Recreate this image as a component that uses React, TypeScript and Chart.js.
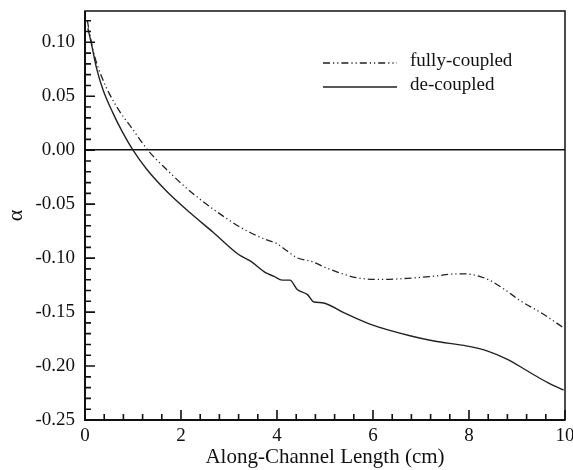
import React, { useEffect, useRef } from "react";
import { Chart, registerables } from "chart.js";

Chart.register(...registerables);

// Along-channel length (cm) and alpha for each series
const fullyX = [0.05, 0.1, 0.2, 0.375, 0.65, 1.0, 1.31, 1.7, 2.19, 2.68, 3.2, 3.45, 3.86, 3.97, 4.2, 4.42, 4.7, 5.11, 5.67, 6.23, 6.79, 7.27, 7.76, 8.04, 8.39, 8.74, 9.08, 9.5, 9.97];
const fullyY = [0.12, 0.107, 0.087, 0.065, 0.041, 0.019, 0.0, -0.0179, -0.038, -0.0549, -0.0704, -0.0765, -0.0843, -0.0858, -0.093, -0.0997, -0.1028, -0.1105, -0.1182, -0.1197, -0.1185, -0.1167, -0.1145, -0.1151, -0.1197, -0.129, -0.1398, -0.1506, -0.1645];

const decX = [0.06, 0.13, 0.24, 0.375, 0.58, 0.79, 1.0, 1.29, 1.7, 2.19, 2.68, 3.2, 3.45, 3.76, 3.93, 4.11, 4.27, 4.42, 4.63, 4.77, 4.94, 5.39, 5.95, 6.79, 7.27, 7.96, 8.39, 8.8, 9.22, 9.64, 9.97];
const decY = [0.113, 0.0994, 0.076, 0.056, 0.0346, 0.016, 0.0, -0.0179, -0.038, -0.058, -0.0765, -0.0966, -0.1028, -0.1135, -0.1167, -0.1204, -0.1204, -0.129, -0.1336, -0.1407, -0.1413, -0.1506, -0.1614, -0.1722, -0.1768, -0.1815, -0.1861, -0.1938, -0.2046, -0.2154, -0.2222];

const xTicks = [0, 2, 4, 6, 8, 10];
const yTicks = [-0.25, -0.2, -0.15, -0.1, -0.05, 0, 0.05, 0.1];
const xMinorStep = 0.4;
const yMinorStep = 0.01;

const seriesNames = ["fully-coupled", "de-coupled"];

const FONT = "'Liberation Serif', 'DejaVu Serif', serif";
const DASH = [7, 3, 1.2, 3, 1.2, 3];

const boxTicksPlugin = {
  id: "boxTicks",
  afterDraw(chart: any) {
    const { ctx, chartArea, scales } = chart;
    const xs = scales.x;
    const ys = scales.y;
    ctx.save();
    ctx.strokeStyle = "#111";
    ctx.lineWidth = 1.5;
    ctx.strokeRect(chartArea.left, chartArea.top, chartArea.right - chartArea.left, chartArea.bottom - chartArea.top);
    ctx.lineWidth = 2;
    ctx.beginPath();
    ctx.moveTo(chartArea.left, chartArea.top);
    ctx.lineTo(chartArea.left, chartArea.bottom);
    ctx.lineTo(chartArea.right, chartArea.bottom);
    ctx.stroke();
    ctx.lineWidth = 1.6;
    ctx.beginPath();
    for (let i = 0; i * xMinorStep <= xs.max + 1e-9; i++) {
      const v = i * xMinorStep;
      const px = xs.getPixelForValue(v);
      const major = xTicks.some((t) => Math.abs(t - v) < 1e-6);
      ctx.moveTo(px, chartArea.bottom);
      ctx.lineTo(px, chartArea.bottom - (major ? 10 : 6));
    }
    const nY = Math.round((ys.max - ys.min) / yMinorStep);
    for (let i = 0; i <= nY; i++) {
      const v = ys.min + i * yMinorStep;
      if (v > ys.max + 1e-9) break;
      const py = ys.getPixelForValue(v);
      const major = yTicks.some((t) => Math.abs(t - v) < 1e-6);
      ctx.moveTo(chartArea.left, py);
      ctx.lineTo(chartArea.left + (major ? 10 : 6), py);
    }
    ctx.stroke();
    const ds = chart.data.datasets;
    const rows = [63, 87];
    ctx.font = `19px ${FONT}`;
    ctx.fillStyle = "#111";
    ctx.textBaseline = "middle";
    ds.forEach((d: any, i: number) => {
      ctx.beginPath();
      ctx.strokeStyle = d.borderColor;
      ctx.lineWidth = d.borderWidth;
      ctx.setLineDash(d.borderDash || []);
      ctx.moveTo(323, rows[i]);
      ctx.lineTo(397, rows[i]);
      ctx.stroke();
      ctx.setLineDash([]);
      ctx.fillText(d.label, 410, rows[i] - 2);
    });
    ctx.restore();
  },
};

export default function App() {
  const ref = useRef<HTMLCanvasElement>(null);
  useEffect(() => {
    if (!ref.current) return;
    const chart = new Chart(ref.current, {
      type: "line",
      data: {
        datasets: [
          {
            label: seriesNames[0],
            data: fullyX.map((x, i) => ({ x, y: fullyY[i] })),
            borderColor: "#222",
            borderWidth: 1.3,
            borderDash: DASH,
            pointRadius: 0,
            cubicInterpolationMode: "monotone",
            fill: false,
          },
          {
            label: seriesNames[1],
            data: decX.map((x, i) => ({ x, y: decY[i] })),
            borderColor: "#222",
            borderWidth: 1.4,
            pointRadius: 0,
            cubicInterpolationMode: "monotone",
            fill: false,
          },
        ],
      },
      options: {
        animation: false,
        responsive: false,
        maintainAspectRatio: false,
        layout: { padding: { top: 11, right: 8, left: 0, bottom: 0 } },
        plugins: { legend: { display: false }, tooltip: { enabled: false } },
        scales: {
          x: {
            type: "linear",
            min: 0,
            max: 10,
            afterBuildTicks: (s: any) => {
              s.ticks = xTicks.map((v) => ({ value: v }));
            },
            afterFit: (s: any) => {
              s.height = 50;
              s.paddingLeft = 0;
              s.paddingRight = 0;
            },
            grid: { display: false, drawTicks: false },
            border: { display: false },
            ticks: {
              color: "#111",
              font: { family: FONT, size: 19 },
              padding: 5,
              maxRotation: 0,
              callback: (v: any) => String(v),
            },
            title: {
              display: true,
              text: "Along-Channel Length (cm)",
              color: "#111",
              font: { family: FONT, size: 21 },
              padding: { top: 0, bottom: 0 },
            },
          },
          y: {
            type: "linear",
            min: -0.25,
            max: 0.129,
            afterBuildTicks: (s: any) => {
              s.ticks = yTicks.map((v) => ({ value: v }));
            },
            afterFit: (s: any) => {
              s.width = 85;
              s.paddingTop = 0;
              s.paddingBottom = 0;
            },
            grid: {
              drawTicks: false,
              color: (c: any) => (c.tick && Math.abs(c.tick.value) < 1e-9 ? "#111" : "rgba(0,0,0,0)"),
              lineWidth: 1.5,
            },
            border: { display: false },
            ticks: {
              color: "#111",
              font: { family: FONT, size: 19 },
              padding: 10,
              callback: (v: any) => Number(v).toFixed(2),
            },
            title: {
              display: true,
              text: "α",
              color: "#111",
              font: { family: FONT, size: 22 },
              padding: { top: 3, bottom: 0 },
            },
          },
        },
      },
      plugins: [boxTicksPlugin],
    } as any);
    return () => chart.destroy();
  }, []);
  return (
    <div style={{ position: "absolute", left: 0, top: 0, width: 573, height: 470, background: "#fff" }}>
      <canvas ref={ref} width={573} height={470} style={{ width: 573, height: 470 }} />
    </div>
  );
}
